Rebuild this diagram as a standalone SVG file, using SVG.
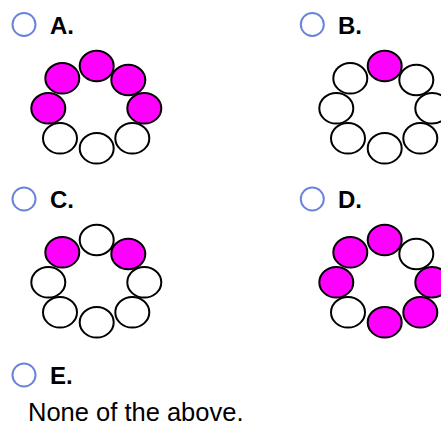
<svg xmlns="http://www.w3.org/2000/svg" width="441" height="425" viewBox="0 0 441 425">
<style>
.radio{fill:#fff;stroke:#6a84d8;stroke-width:2}
.lbl{font-family:"Liberation Sans",Arial,sans-serif;font-weight:bold;font-size:24px;fill:#000}
.txt{font-family:"Liberation Sans",Arial,sans-serif;font-size:25.5px;fill:#000}
.w{fill:#fff;stroke:#000;stroke-width:2}
.m{fill:#ff00ff;stroke:#000;stroke-width:2}
</style>
<rect width="441" height="425" fill="#fff"/>
<g id="optionA">
<circle class="radio" cx="24" cy="24.5" r="11.5"/>
<text class="lbl" x="50" y="34">A.</text>
<g id="ringA">
<ellipse class="m" cx="62.3" cy="78.3" rx="17" ry="15.3"/>
<ellipse class="m" cx="128.3" cy="80" rx="17" ry="15.3"/>
<ellipse class="m" cx="96.7" cy="66" rx="17" ry="15.3"/>
<ellipse class="m" cx="48.3" cy="108.3" rx="17" ry="15.3"/>
<ellipse class="m" cx="144.3" cy="108.3" rx="17" ry="15.3"/>
<ellipse class="w" cx="60" cy="138.3" rx="17" ry="15.3"/>
<ellipse class="w" cx="132.3" cy="138.3" rx="17" ry="15.3"/>
<ellipse class="w" cx="96.7" cy="148.3" rx="17" ry="15.3"/>
</g>
</g>
<g id="optionB">
<circle class="radio" cx="312.3" cy="24.5" r="11.5"/>
<text class="lbl" x="338" y="34">B.</text>
<g id="ringB" transform="translate(288,0)">
<ellipse class="w" cx="62.3" cy="78.3" rx="17" ry="15.3"/>
<ellipse class="w" cx="128.3" cy="80" rx="17" ry="15.3"/>
<ellipse class="m" cx="96.7" cy="66" rx="17" ry="15.3"/>
<ellipse class="w" cx="48.3" cy="108.3" rx="17" ry="15.3"/>
<ellipse class="w" cx="144.3" cy="108.3" rx="17" ry="15.3"/>
<ellipse class="w" cx="60" cy="138.3" rx="17" ry="15.3"/>
<ellipse class="w" cx="132.3" cy="138.3" rx="17" ry="15.3"/>
<ellipse class="w" cx="96.7" cy="148.3" rx="17" ry="15.3"/>
</g>
</g>
<g id="optionC">
<circle class="radio" cx="24" cy="199" r="11.5"/>
<text class="lbl" x="50" y="208">C.</text>
<g id="ringC" transform="translate(0,174)">
<ellipse class="m" cx="62.3" cy="78.3" rx="17" ry="15.3"/>
<ellipse class="m" cx="128.3" cy="80" rx="17" ry="15.3"/>
<ellipse class="w" cx="96.7" cy="66" rx="17" ry="15.3"/>
<ellipse class="w" cx="48.3" cy="108.3" rx="17" ry="15.3"/>
<ellipse class="w" cx="144.3" cy="108.3" rx="17" ry="15.3"/>
<ellipse class="w" cx="60" cy="138.3" rx="17" ry="15.3"/>
<ellipse class="w" cx="132.3" cy="138.3" rx="17" ry="15.3"/>
<ellipse class="w" cx="96.7" cy="148.3" rx="17" ry="15.3"/>
</g>
</g>
<g id="optionD">
<circle class="radio" cx="312.3" cy="199" r="11.5"/>
<text class="lbl" x="338" y="208">D.</text>
<g id="ringD" transform="translate(288,174)">
<ellipse class="m" cx="62.3" cy="78.3" rx="17" ry="15.3"/>
<ellipse class="w" cx="128.3" cy="80" rx="17" ry="15.3"/>
<ellipse class="m" cx="96.7" cy="66" rx="17" ry="15.3"/>
<ellipse class="m" cx="48.3" cy="108.3" rx="17" ry="15.3"/>
<ellipse class="m" cx="144.3" cy="108.3" rx="17" ry="15.3"/>
<ellipse class="w" cx="60" cy="138.3" rx="17" ry="15.3"/>
<ellipse class="m" cx="132.3" cy="138.3" rx="17" ry="15.3"/>
<ellipse class="m" cx="96.7" cy="148.3" rx="17" ry="15.3"/>
</g>
</g>
<g id="optionE">
<circle class="radio" cx="24" cy="375" r="11.5"/>
<text class="lbl" x="50" y="384">E.</text>
<text class="txt" x="28" y="421">None of the above.</text>
</g>
</svg>
